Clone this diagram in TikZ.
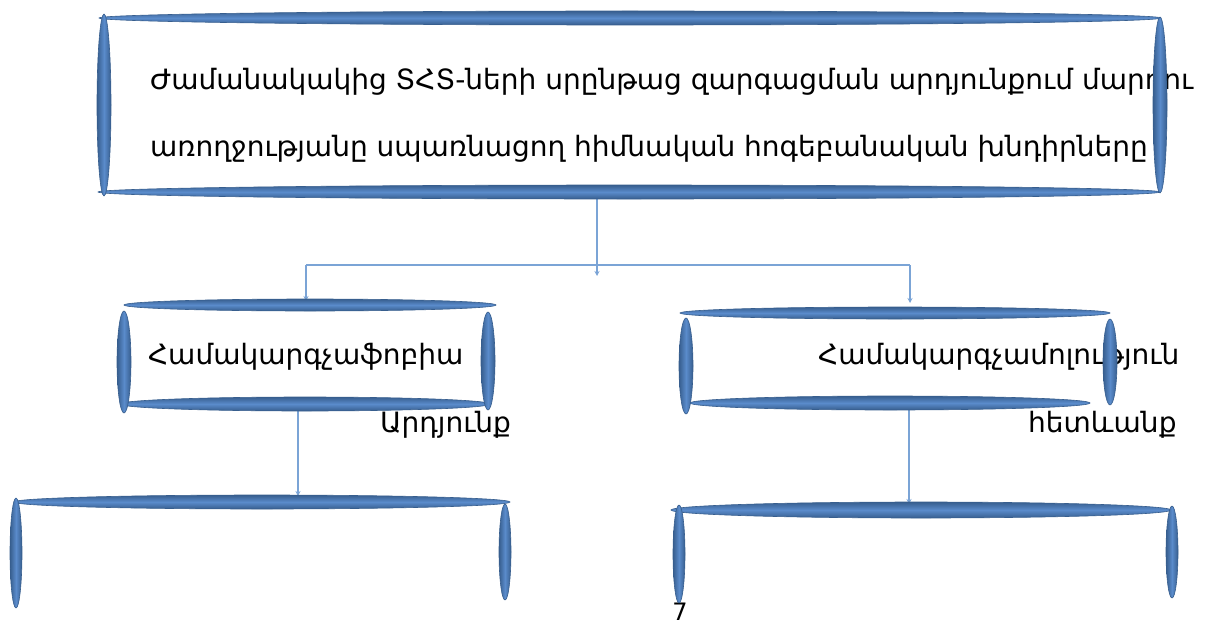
\documentclass[tikz,border=0pt]{standalone}
\usepackage{fontspec}
\setmainfont{DejaVu Sans}
\usetikzlibrary{arrows.meta}
\definecolor{barL}{HTML}{5A8BCB}
\definecolor{barD}{HTML}{375E8E}
\definecolor{conn}{HTML}{7BA4D6}
\newcommand\myhbar[4]{\shade[top color=barD, bottom color=barD, middle color=barL, draw=barD, line width=0.6pt] (#1,#2) ellipse [x radius=#3pt, y radius=#4pt];}
\newcommand\myvbar[4]{\shade[left color=barD, right color=barD, middle color=barL, draw=barD, line width=0.6pt] (#1,#2) ellipse [x radius=#3pt, y radius=#4pt];}
\tikzset{
  txt/.style={font=\fontsize{28}{32}\selectfont, inner sep=0pt, anchor=base west},
  link/.style={draw=conn, line width=1.6pt},
  arr/.style={link, -{Stealth[length=5pt,width=5pt]}}
}
\begin{document}
\begin{tikzpicture}[x=1pt,y=-1pt]
\useasboundingbox (0,0) rectangle (1220,626);
% texts
\node[txt] (t1) at (150,89) {Ժամանակակից ՏՀՏ-ների սրընթաց զարգացման արդյունքում մարդու};
\node[txt] (t2) at (150,156) {առողջությանը սպառնացող հիմնական հոգեբանական խնդիրները};
\node[txt] (l1) at (148,364) {Համակարգչաֆոբիա};
\node[txt] (l2) at (380,432) {Արդյունք};
\node[txt] (r1) at (818,364) {Համակարգչամոլություն};
\node[txt] (r2) at (1028,432) {հետևանք};
\node[font=\fontsize{24}{28}\selectfont, inner sep=0pt, anchor=base] (pg) at (680,620) {7};
% anchor coordinates
\coordinate (topout) at (597,198);
\coordinate (topend) at (597,276);
\coordinate (jl) at (306,265);
\coordinate (jr) at (910,265);
\coordinate (lin) at (306,301);
\coordinate (rin) at (910,303);
\coordinate (lout) at (298,410);
\coordinate (lbin) at (298,496);
\coordinate (rout) at (909,408);
\coordinate (rbin) at (909,504);
% connectors
\draw[arr] (topout) -- (topend);
\draw[link] (jl) -- (jr);
\draw[arr] (jl) -- (lin);
\draw[arr] (jr) -- (rin);
\draw[arr] (lout) -- (lbin);
\draw[arr] (rout) -- (rbin);
% top box
\myhbar{630}{18}{531}{7}
\myhbar{629}{192}{531}{7}
\myvbar{104}{105}{7}{91}
\myvbar{1160}{105}{7}{88}
% left middle box
\myhbar{310}{305}{186}{6}
\myhbar{305}{404}{185}{7}
\myvbar{124}{362}{7}{51}
\myvbar{488}{361}{7}{49}
% right middle box
\myhbar{895}{313}{215}{6}
\myhbar{890}{403}{200}{7}
\myvbar{686}{366}{7}{48}
\myvbar{1110}{362}{7}{43}
% bottom left box
\myhbar{262}{502}{248}{7}
\myvbar{16}{553}{6}{55}
\myvbar{505}{552}{6}{48}
% bottom right box
\myhbar{921}{510}{250}{8}
\myvbar{679}{554}{6}{49}
\myvbar{1172}{552}{6}{46}
\end{tikzpicture}
\end{document}
